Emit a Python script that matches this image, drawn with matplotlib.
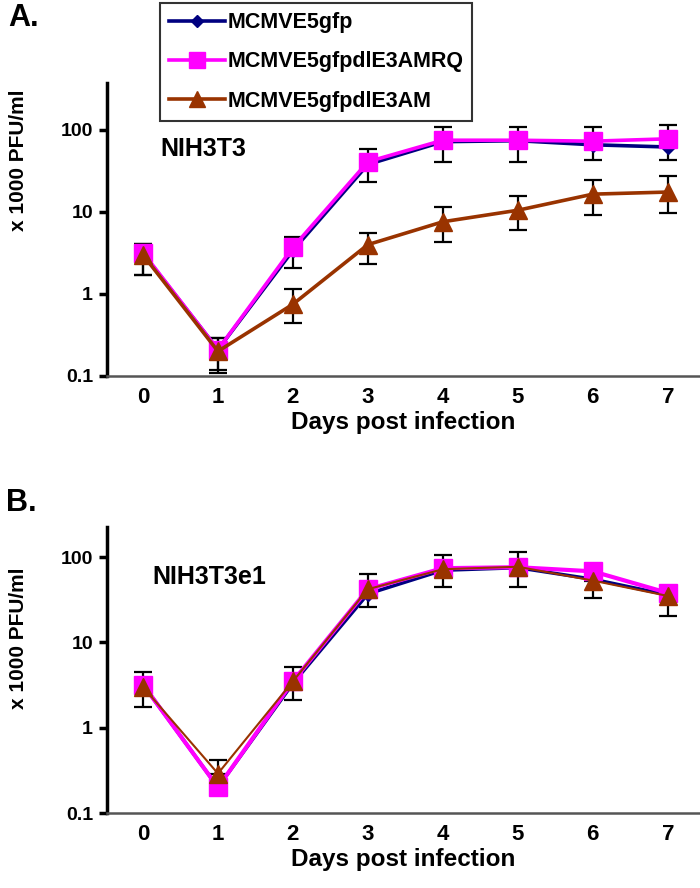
import matplotlib
matplotlib.use("Agg")
import matplotlib.pyplot as plt
from matplotlib.ticker import FixedLocator, FixedFormatter

plt.rcParams['font.family'] = ['Liberation Sans', 'DejaVu Sans']
plt.rcParams['font.weight'] = 'bold'

days = [0, 1, 2, 3, 4, 5, 6, 7]
series_names = ["MCMVE5gfp", "MCMVE5gfpdlE3AMRQ", "MCMVE5gfpdlE3AM"]

# Panel A (NIH3T3)
a_gfp = [3.1, 0.21, 3.4, 38, 72, 74, 66, 62]
a_amrq = [3.2, 0.21, 3.7, 41, 75, 75, 73, 78]
a_am = [3.0, 0.20, 0.75, 4.0, 7.6, 10.5, 16.5, 17.5]
a_amrq_lo = [1.7, 0.12, 2.1, 23, 41, 41, 43, 43]
a_amrq_hi = [4.1, 0.29, 5.0, 59, 109, 109, 109, 115]
a_am_lo = [1.7, 0.11, 0.44, 2.3, 4.3, 6.0, 9.2, 9.7]
a_am_hi = [4.1, 0.29, 1.15, 5.5, 11.5, 15.7, 24.5, 27.5]

# Panel B (NIH3T3e1)
b_gfp = [3.2, 0.20, 3.3, 37, 70, 75, 55, 36]
b_amrq = [3.2, 0.20, 3.5, 42, 74, 76, 68, 38]
b_am = [3.0, 0.29, 3.5, 42, 72, 77, 53, 35]
b_lo = [1.75, 0.29, 2.1, 26, 44, 45, 33, 20.5]
b_hi = [4.5, 0.42, 5.1, 63, 105, 115, 53, 35]

ytick_vals = [0.1, 1, 10, 100]
ytick_labels = ["0.1", "1", "10", "100"]

colors = ["#000080", "#FF00FF", "#993300"]
markers = ["D", "s", "^"]
msizes = [7, 12.5, 12.5]

W, H = 700.0, 888.0
fig = plt.figure(figsize=(W / 100, H / 100), dpi=100)

axA = fig.add_axes([107 / W, 1 - 376 / H, (700 - 107) / W, (376 - 83) / H])
axB = fig.add_axes([107 / W, 1 - 813 / H, (700 - 107) / W, (813 - 527) / H])


def style(ax, ytop, top_px, bot_px, ylab_center_px):
    ax.set_yscale('log')
    ax.set_ylim(0.1, ytop)
    ax.set_xlim(-0.48, 7.43)
    ax.yaxis.set_major_locator(FixedLocator(ytick_vals))
    ax.yaxis.set_major_formatter(FixedFormatter(ytick_labels))
    ax.yaxis.set_minor_locator(FixedLocator([]))
    ax.set_xticks(days)
    ax.set_xticklabels([str(d) for d in days])
    for s in ['top', 'right']:
        ax.spines[s].set_visible(False)
    ax.spines['left'].set_linewidth(2.5)
    ax.spines['left'].set_color('black')
    ax.spines['bottom'].set_linewidth(1.8)
    ax.spines['bottom'].set_color('#555555')
    ax.tick_params(axis='y', direction='out', length=6, width=2.5, labelsize=14, pad=4)
    ax.tick_params(axis='x', length=0, labelsize=16, pad=8)
    for lab in ax.get_xticklabels() + ax.get_yticklabels():
        lab.set_fontweight('bold')
    ax.set_xlabel("Days post infection", fontsize=17.5, fontweight='bold', labelpad=2)
    ax.set_ylabel("x 1000 PFU/ml", fontsize=15, fontweight='bold')
    ax.yaxis.set_label_coords((28 - 107) / (700 - 107),
                              (bot_px - ylab_center_px) / (bot_px - top_px))


def errs(vals, lo, hi):
    return [[v - l for v, l in zip(vals, lo)], [h - v for v, h in zip(vals, hi)]]


# Panel A
style(axA, 374, 83, 376, 160)
axA.errorbar(days, a_amrq, yerr=errs(a_amrq, a_amrq_lo, a_amrq_hi), fmt='none',
             ecolor='black', elinewidth=1.6, capsize=6.5, capthick=1.6, zorder=2)
axA.errorbar(days, a_am, yerr=errs(a_am, a_am_lo, a_am_hi), fmt='none',
             ecolor='black', elinewidth=1.6, capsize=6.5, capthick=1.6, zorder=2)
handles = []
for vals, c, m, ms, name, z in zip([a_gfp, a_amrq, a_am], colors, markers, msizes, series_names, [3, 4, 5]):
    h, = axA.plot(days, vals, color=c, marker=m, markersize=ms, linewidth=2.6,
                  markeredgecolor=c, label=name, zorder=z)
    handles.append(h)
axA.text((160 - 107) / (700 - 107), (376 - 149) / (376 - 83), "NIH3T3",
         transform=axA.transAxes, fontsize=18, fontweight='bold', va='center', ha='left')

# Panel B
style(axB, 225, 527, 813, 638)
axB.errorbar(days, b_am, yerr=errs(b_am, b_lo, b_hi), fmt='none',
             ecolor='black', elinewidth=1.6, capsize=6.5, capthick=1.6, zorder=2)
for vals, c, m, ms, name, z, lw in zip([b_gfp, b_amrq, b_am], colors, markers, msizes, series_names, [3, 4, 5], [2.5, 3.0, 1.5]):
    axB.plot(days, vals, color=c, marker=m, markersize=ms, linewidth=lw,
             markeredgecolor=c, zorder=z)
axB.text((152 - 107) / (700 - 107), (813 - 577) / (813 - 527), "NIH3T3e1",
         transform=axB.transAxes, fontsize=18, fontweight='bold', va='center', ha='left')

# Panel labels
fig.text(8 / W, 1 - 18 / H, "A.", fontsize=22, fontweight='bold', va='center', ha='left')
fig.text(6 / W, 1 - 503 / H, "B.", fontsize=22, fontweight='bold', va='center', ha='left')

# Legend
leg = fig.legend(handles=handles, loc='upper left', bbox_to_anchor=(160 / W, 1 - 3 / H),
                 bbox_transform=fig.transFigure, borderaxespad=0, fontsize=15.5,
                 frameon=True, fancybox=False, edgecolor='black', handlelength=2.6,
                 handletextpad=0.1, labelspacing=0.85, borderpad=0.42, markerscale=0.9)
leg.get_frame().set_linewidth(1.5)
for t in leg.get_texts():
    t.set_fontweight('bold')
fig.canvas.draw()
# widen frame slightly on the right like the reference
fig.savefig("out.png", dpi=100)
